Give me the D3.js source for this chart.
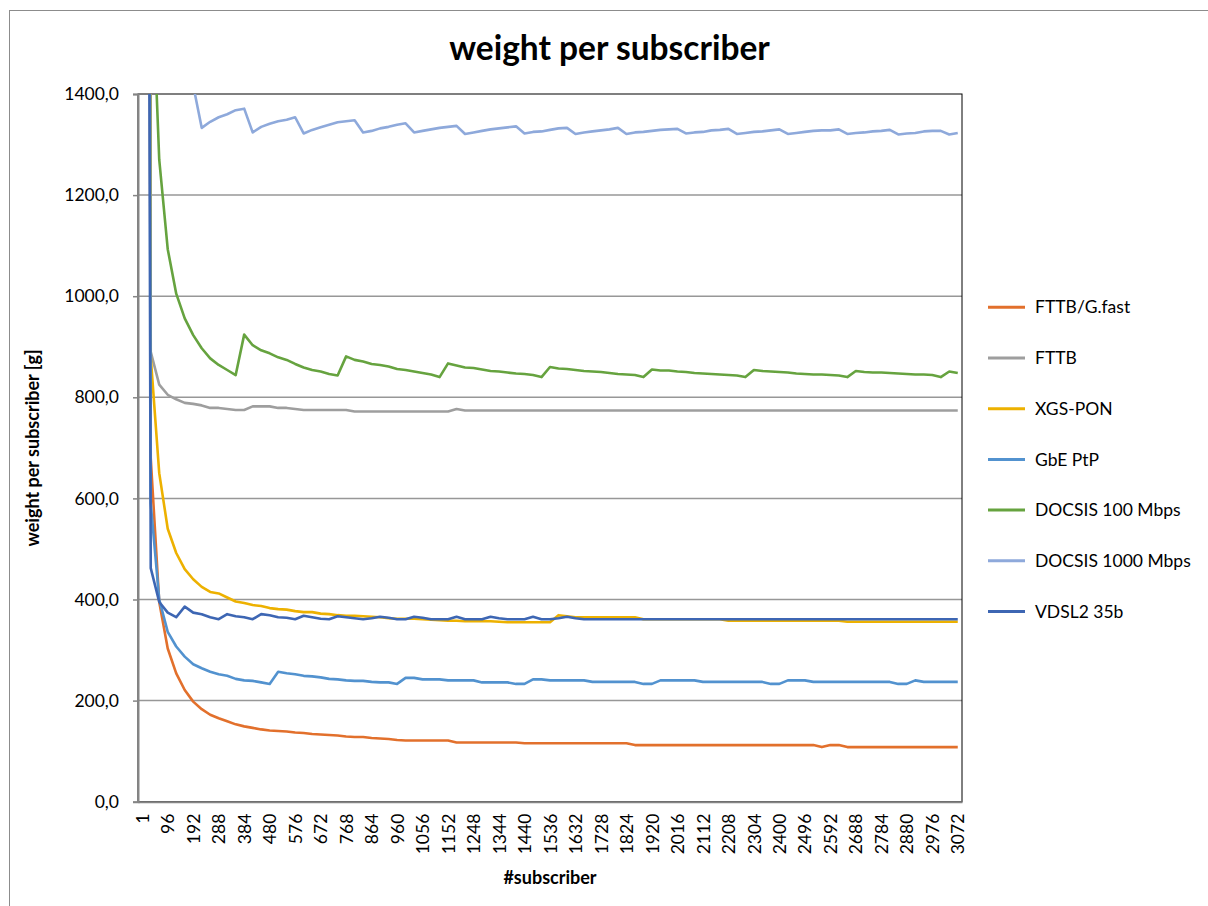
<!DOCTYPE html>
<html>
<head>
<meta charset="utf-8">
<script src="https://cdn.jsdelivr.net/npm/d3@7"></script>
<style>
  body { margin: 0; background: #fff; }
  svg { display: block; font-family: Lato, "Liberation Sans", sans-serif; }
</style>
</head>
<body>
<div id="chart"></div>
<script>
// # subscribers (x categories)
const categories = [
    1, 32, 64, 96, 128, 160, 192, 224, 256, 288, 320, 352, 384, 416, 448, 480,
    512, 544, 576, 608, 640, 672, 704, 736, 768, 800, 832, 864, 896, 928, 960,
    992, 1024, 1056, 1088, 1120, 1152, 1184, 1216, 1248, 1280, 1312, 1344, 1376,
    1408, 1440, 1472, 1504, 1536, 1568, 1600, 1632, 1664, 1696, 1728, 1760, 1792,
    1824, 1856, 1888, 1920, 1952, 1984, 2016, 2048, 2080, 2112, 2144, 2176, 2208,
    2240, 2272, 2304, 2336, 2368, 2400, 2432, 2464, 2496, 2528, 2560, 2592, 2624,
    2656, 2688, 2720, 2752, 2784, 2816, 2848, 2880, 2912, 2944, 2976, 3008, 3040,
    3072,
];

// weight per subscriber [g]
const fttbGfast = [
    9000, 680, 395, 303, 254, 221, 198, 183, 172, 165, 159, 153, 149, 146, 143,
    141, 140, 139, 137, 136, 134, 133, 132, 131, 129, 128, 128, 126, 125, 124,
    122, 121, 121, 121, 121, 121, 121, 117, 117, 117, 117, 117, 117, 117, 117,
    115.5, 115.5, 115.5, 115.5, 115.5, 115.5, 115.5, 115.5, 115.5, 115.5, 115.5,
    115.5, 115.5, 112, 112, 112, 112, 112, 112, 112, 112, 112, 112, 112, 112, 112,
    112, 112, 112, 112, 112, 112, 112, 112, 112, 108, 112, 112, 108, 108, 108, 108,
    108, 108, 108, 108, 108, 108, 108, 108, 108, 108,
];
const fttb = [
    20000, 890, 825, 805, 796, 789, 787, 784, 779, 779, 777, 775, 775, 782, 782,
    782, 779, 779, 777, 775, 775, 775, 775, 775, 775, 772, 772, 772, 772, 772, 772,
    772, 772, 772, 772, 772, 772, 777, 774, 774, 774, 774, 774, 774, 774, 774, 774,
    774, 774, 774, 774, 774, 774, 774, 774, 774, 774, 774, 774, 774, 774, 774, 774,
    774, 774, 774, 774, 774, 774, 774, 774, 774, 774, 774, 774, 774, 774, 774, 774,
    774, 774, 774, 774, 774, 774, 774, 774, 774, 774, 774, 774, 774, 774, 774, 774,
    774, 774,
];
const xgsPon = [
    15000, 880, 650, 540, 492, 460, 440, 425, 415, 412, 404, 396, 393, 389, 387,
    383, 381, 380, 377, 375, 375, 372, 371, 369, 368, 368, 367, 366, 365, 363, 362,
    362, 362, 361, 360, 359, 358, 358, 357, 357, 357, 357, 356, 355, 355, 355, 355,
    355, 355, 369, 367, 365, 365, 365, 365, 365, 365, 365, 365, 361, 361, 361, 361,
    361, 361, 361, 361, 361, 361, 358, 358, 358, 358, 358, 358, 358, 358, 358, 358,
    358, 358, 358, 358, 356, 356, 356, 356, 356, 356, 356, 356, 356, 356, 356, 356,
    356, 356,
];
const gbePtp = [
    12000, 590, 400, 336, 307, 287, 272, 264, 257, 252, 249, 243, 240, 239, 236,
    233, 257, 254, 252, 249, 248, 246, 243, 242, 240, 239, 239, 237, 236, 236, 233,
    245, 245, 242, 242, 242, 240, 240, 240, 240, 236, 236, 236, 236, 233, 233, 242,
    242, 240, 240, 240, 240, 240, 237, 237, 237, 237, 237, 237, 233, 233, 240, 240,
    240, 240, 240, 237, 237, 237, 237, 237, 237, 237, 237, 233, 233, 240, 240, 240,
    237, 237, 237, 237, 237, 237, 237, 237, 237, 237, 233, 233, 240, 237, 237, 237,
    237, 237,
];
const docsis100 = [
    30000, 1700, 1270, 1093, 1005, 956, 923, 897, 877, 864, 854, 844, 924, 903,
    893, 887, 879, 874, 866, 859, 854, 851, 846, 843, 881, 874, 871, 866, 864, 861,
    856, 854, 851, 848, 845, 840, 867, 863, 859, 858, 855, 852, 851, 849, 847, 846,
    844, 840, 860, 857, 856, 854, 852, 851, 850, 848, 846, 845, 844, 840, 855, 853,
    853, 851, 850, 848, 847, 846, 845, 844, 843, 840, 854, 852, 851, 850, 849, 847,
    846, 845, 845, 844, 843, 840, 852, 850, 849, 849, 848, 847, 846, 845, 845, 844,
    840, 851, 848,
];
const docsis1000 = [
    60000, 2900, 2150, 1800, 1620, 1500, 1417, 1333, 1345, 1354, 1360, 1368, 1371,
    1324, 1335, 1341, 1346, 1349, 1354, 1322, 1329, 1334, 1339, 1344, 1346, 1348,
    1324, 1327, 1332, 1335, 1339, 1342, 1324, 1327, 1330, 1333, 1335, 1337, 1321,
    1324, 1327, 1330, 1332, 1334, 1336, 1322, 1325, 1326, 1329, 1332, 1333, 1321,
    1324, 1326, 1328, 1330, 1333, 1321, 1324, 1325, 1327, 1329, 1330, 1331, 1322,
    1324, 1325, 1328, 1329, 1331, 1321, 1323, 1325, 1326, 1328, 1330, 1321, 1323,
    1325, 1327, 1328, 1328, 1330, 1321, 1323, 1324, 1326, 1327, 1329, 1320, 1322,
    1323, 1326, 1327, 1327, 1320, 1323,
];
const vdsl35b = [
    6500, 462, 395, 374, 365, 386, 374, 371, 365, 361, 371, 367, 365, 361, 371,
    369, 365, 364, 361, 368, 365, 362, 361, 367, 365, 363, 361, 363, 366, 364, 361,
    361, 366, 364, 361, 361, 361, 366, 361, 361, 361, 366, 363, 361, 361, 361, 366,
    361, 361, 363, 366, 363, 361, 361, 361, 361, 361, 361, 361, 361, 361, 361, 361,
    361, 361, 361, 361, 361, 361, 361, 361, 361, 361, 361, 361, 361, 361, 361, 361,
    361, 361, 361, 361, 361, 361, 361, 361, 361, 361, 361, 361, 361, 361, 361, 361,
    361, 361,
];

const seriesNames = [
    "FTTB/G.fast", "FTTB", "XGS-PON", "GbE PtP",
    "DOCSIS 100 Mbps", "DOCSIS 1000 Mbps", "VDSL2 35b",
];
const seriesValues = [fttbGfast, fttb, xgsPon, gbePtp, docsis100, docsis1000, vdsl35b];
const yTicks = [0, 200, 400, 600, 800, 1000, 1200, 1400];

const colors = ["#e2702c", "#9e9e9e", "#edb100", "#5292cf", "#66a33f", "#8ea9db", "#3d66b3"];

// layout
const width = 1208;
const height = 906;
const plot = { left: 138, right: 962, top: 94, bottom: 801.7 };

const svg = d3
    .select("#chart")
    .append("svg")
    .attr("width", width)
    .attr("height", height);

// chart border (right/bottom edges fall outside the picture)
svg.append("rect")
    .attr("x", 9.5)
    .attr("y", 10.5)
    .attr("width", 1210)
    .attr("height", 910)
    .attr("fill", "#fff")
    .attr("stroke", "#8c8c8c")
    .attr("stroke-width", 1);

const x = d3
    .scalePoint()
    .domain(categories)
    .range([plot.left, plot.right])
    .padding(0.5);

const y = d3.scaleLinear().domain([0, 1400]).range([plot.bottom, plot.top]);

const locale = d3.formatLocale({ decimal: ",", thousands: ".", grouping: [3], currency: ["", ""] });
const fmt = locale.format(".1f");

// gridlines
svg.append("g")
    .selectAll("line")
    .data(yTicks.filter((d) => d > 0 && d < 1400))
    .enter()
    .append("line")
    .attr("x1", plot.left)
    .attr("x2", plot.right)
    .attr("y1", (d) => y(d))
    .attr("y2", (d) => y(d))
    .attr("stroke", "#979797")
    .attr("stroke-width", 1.5);

// plot area border
svg.append("rect")
    .attr("x", plot.left)
    .attr("y", plot.top)
    .attr("width", plot.right - plot.left)
    .attr("height", plot.bottom - plot.top)
    .attr("fill", "none")
    .attr("stroke", "#000")
    .attr("stroke-width", 1);

svg.append("clipPath")
    .attr("id", "plotClip")
    .append("rect")
    .attr("x", plot.left)
    .attr("y", plot.top)
    .attr("width", plot.right - plot.left)
    .attr("height", plot.bottom - plot.top);

const line = d3
    .line()
    .x((d, i) => x(categories[i]))
    .y((d) => y(d));

svg.append("g")
    .attr("clip-path", "url(#plotClip)")
    .selectAll("path")
    .data(seriesValues)
    .enter()
    .append("path")
    .attr("d", line)
    .attr("fill", "none")
    .attr("stroke", (d, i) => colors[i])
    .attr("stroke-width", 2.6)
    .attr("stroke-linejoin", "round");

// y axis
const yAxis = svg
    .append("g")
    .attr("transform", `translate(${plot.left},0)`)
    .call(d3.axisLeft(y).tickValues(yTicks).tickFormat(fmt).tickSize(5).tickPadding(14));
yAxis.select(".domain").attr("stroke", "#858585").attr("stroke-width", 2);
yAxis.selectAll(".tick line").attr("stroke", "#858585").attr("stroke-width", 1.5);
yAxis.selectAll("text")
    .attr("font-family", "Lato, sans-serif")
    .attr("font-size", 17.5)
    .attr("fill", "#000");

// x axis
const xAxis = svg
    .append("g")
    .attr("transform", `translate(0,${plot.bottom})`)
    .call(
        d3.axisBottom(x)
            .tickValues(categories.filter((d, i) => i % 3 === 0))
            .tickSize(0)
            .tickSizeOuter(0)
    );
xAxis.select(".domain").attr("stroke", "#858585").attr("stroke-width", 2);
xAxis.selectAll("text")
    .attr("font-family", "Lato, sans-serif")
    .attr("font-size", 17.5)
    .attr("fill", "#000")
    .attr("transform", "rotate(-90)")
    .attr("text-anchor", "end")
    .attr("x", -12)
    .attr("y", 0)
    .attr("dy", "0.35em");

// titles
svg.append("text")
    .attr("x", 609.5)
    .attr("y", 48)
    .attr("dy", "0.35em")
    .attr("text-anchor", "middle")
    .attr("font-size", 33.5)
    .attr("font-weight", "bold")
    .text("weight per subscriber");

svg.append("text")
    .attr("transform", "translate(33,448) rotate(-90)")
    .attr("dy", "0.35em")
    .attr("text-anchor", "middle")
    .attr("font-size", 18)
    .attr("font-weight", "bold")
    .text("weight per subscriber [g]");

svg.append("text")
    .attr("x", 550)
    .attr("y", 878)
    .attr("dy", "0.35em")
    .attr("text-anchor", "middle")
    .attr("font-size", 18)
    .attr("font-weight", "bold")
    .text("#subscriber");

// legend
const legend = svg
    .append("g")
    .selectAll("g")
    .data(seriesNames)
    .enter()
    .append("g")
    .attr("transform", (d, i) => `translate(988,${307.3 + 50.7 * i})`);

legend.append("line")
    .attr("x1", 0)
    .attr("x2", 37)
    .attr("stroke", (d, i) => colors[i])
    .attr("stroke-width", 3);

legend.append("text")
    .attr("x", 47)
    .attr("dy", "0.35em")
    .attr("font-size", 17.5)
    .text((d) => d);
</script>
</body>
</html>
